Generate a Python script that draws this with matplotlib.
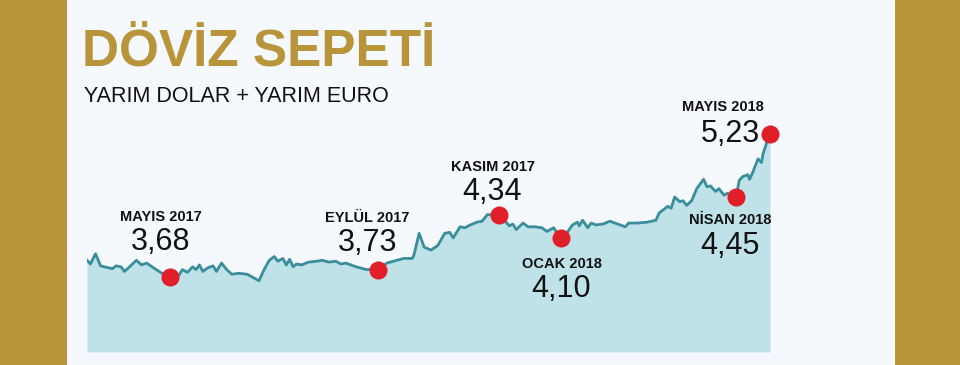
import matplotlib
matplotlib.use('Agg')
import matplotlib.pyplot as plt
from matplotlib.patches import Rectangle

# ---- data ----
gun = [0, 2, 5, 8, 10, 15, 17, 20, 22, 25, 29, 32, 35, 39, 44, 49, 54, 56, 59, 62,
       64, 66, 68, 71, 74, 76, 79, 82, 85, 89, 94, 97, 101, 104, 107, 110, 112, 115,
       117, 119, 121, 123, 126, 130, 135, 138, 142, 146, 149, 152, 158, 164, 171,
       176, 182, 186, 191, 192, 195, 198, 202, 206, 210, 213, 215, 219, 222, 225,
       229, 232, 235, 238, 242, 245, 248, 250, 252, 256, 259, 263, 267, 270, 274,
       278, 282, 285, 288, 289, 291, 294, 296, 299, 303, 307, 310, 313, 316, 318,
       323, 329, 334, 336, 341, 343, 345, 348, 350, 352, 355, 358, 362, 364, 366,
       369, 371, 374, 376, 381, 383, 385, 388, 389, 391, 392, 394, 396, 397, 399, 401]
deger = [3.86, 3.82, 3.93, 3.80, 3.79, 3.77, 3.80, 3.79, 3.74, 3.79, 3.86, 3.81, 3.83,
         3.78, 3.72, 3.68, 3.70, 3.76, 3.73, 3.79, 3.76, 3.81, 3.74, 3.78, 3.80, 3.74,
         3.83, 3.76, 3.71, 3.72, 3.71, 3.68, 3.64, 3.76, 3.86, 3.90, 3.85, 3.88, 3.81,
         3.87, 3.79, 3.82, 3.81, 3.84, 3.85, 3.86, 3.84, 3.85, 3.82, 3.83, 3.79, 3.76,
         3.76, 3.83, 3.86, 3.88, 3.88, 3.92, 4.15, 4.00, 3.97, 4.02, 4.15, 4.16, 4.10,
         4.22, 4.21, 4.24, 4.27, 4.28, 4.35, 4.35, 4.35, 4.29, 4.23, 4.25, 4.19, 4.26,
         4.22, 4.22, 4.21, 4.17, 4.21, 4.10, 4.16, 4.24, 4.27, 4.23, 4.29, 4.21, 4.26,
         4.24, 4.25, 4.28, 4.26, 4.24, 4.22, 4.26, 4.26, 4.27, 4.29, 4.37, 4.44, 4.42,
         4.54, 4.49, 4.50, 4.45, 4.50, 4.63, 4.73, 4.65, 4.66, 4.60, 4.63, 4.56, 4.58,
         4.54, 4.72, 4.76, 4.78, 4.73, 4.81, 4.86, 4.95, 4.91, 5.01, 5.12, 5.22]

isaret_gun = [49, 171, 242, 278, 381, 401]
isaret_ay = ['MAYIS 2017', 'EYLÜL 2017', 'KASIM 2017', 'OCAK 2018', 'NİSAN 2018', 'MAYIS 2018']
isaret_deger = ['3,68', '3,73', '4,34', '4,10', '4,45', '5,23']

baslik = 'DÖVİZ SEPETİ'
alt_baslik = 'YARIM DOLAR + YARIM EURO'

# ---- style ----
GOLD = '#b8953a'
PANEL = '#f5f9fd'
FILL = '#bfe2e8'
LINE = '#3a8d9b'
RED = '#e01f2b'
INK = '#111111'
FONT = ['Liberation Sans', 'DejaVu Sans']

W, H = 960, 365
fig = plt.figure(figsize=(W / 100, H / 100), dpi=100)
fig.patch.set_facecolor(GOLD)
fig.add_artist(Rectangle((67 / W, 0), (895 - 67) / W, 1, transform=fig.transFigure,
                         facecolor=PANEL, edgecolor='none', zorder=0))

ax = fig.add_axes([87 / W, (H - 352) / H, (770 - 87) / W, (352 - 100) / H])
ax.set_xlim(0, 401)
ax.set_ylim(2.874, 5.583)
ax.axis('off')

y0 = ax.get_ylim()[0]
ax.fill_between(gun, deger, y0, color=FILL, lw=0, zorder=1)
ax.plot(gun, deger, color=LINE, lw=2.0, solid_joinstyle='round', zorder=2)

lookup = dict(zip(gun, deger))
mx = isaret_gun
my = [lookup[g] for g in isaret_gun]
ax.plot(mx, my, 'o', ms=13, color=RED, mec='none', clip_on=False, zorder=5)

# label offsets in pixels relative to dot: (dx_label, dy_label, dx_num, dy_num)
offs = [(-10, 56, -10, 27),
        (-11, 48, -11, 19),
        (-6, 44, -7, 15),
        (1, -30, 1, -59),
        (-6, -27, -5.5, -57),
        (-47, 23, -39.5, -8)]

for x, y, ay, dv, (dxl, dyl, dxn, dyn) in zip(mx, my, isaret_ay, isaret_deger, offs):
    ax.annotate(ay, (x, y), xytext=(dxl, dyl), textcoords='offset pixels',
                ha='center', va='baseline', fontsize=10.5, fontweight='bold',
                color=INK, family=FONT, annotation_clip=False, zorder=6)
    ax.annotate(dv, (x, y), xytext=(dxn, dyn), textcoords='offset pixels',
                ha='center', va='baseline', fontsize=22,
                color=INK, family=FONT, annotation_clip=False, zorder=6)

fig.text(82 / W, 1 - 65 / H, baslik, fontsize=37, fontweight='bold', color=GOLD,
         family=FONT, ha='left', va='baseline')
fig.text(84 / W, 1 - 102 / H, alt_baslik, fontsize=15.5, color=INK,
         family=FONT, ha='left', va='baseline')

fig.savefig('out.png', dpi=100, facecolor=fig.get_facecolor())
